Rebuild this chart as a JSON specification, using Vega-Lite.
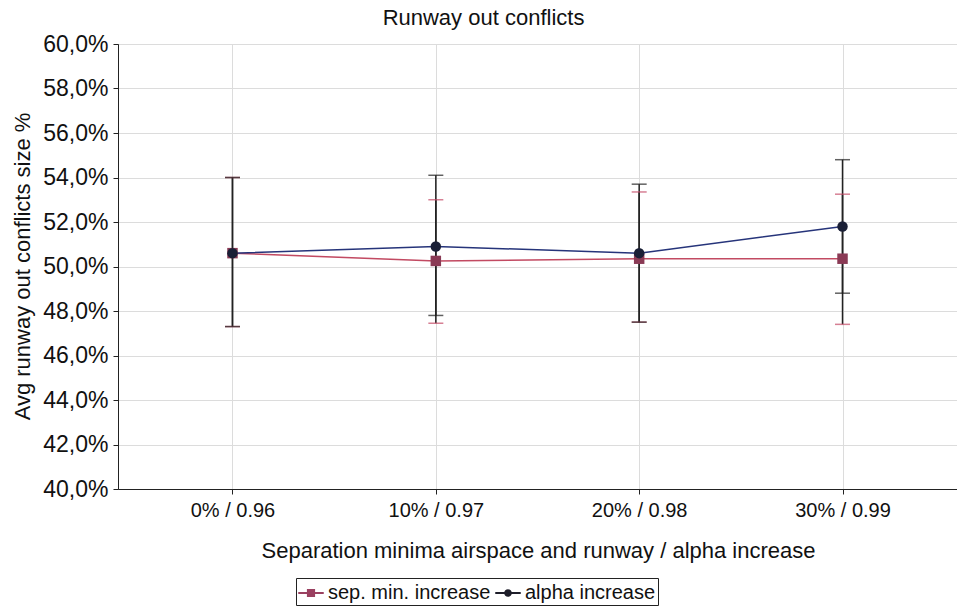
{
  "$schema": "https://vega.github.io/schema/vega-lite/v6.json",
  "autosize": {"type": "none"},
  "width": 839,
  "height": 445,
  "padding": {"left": 118, "top": 44, "right": 0, "bottom": 118},
  "background": "white",
  "config": {
    "font": "Liberation Sans",
    "view": {"stroke": "#555", "strokeWidth": 1},
    "axis": {"labelFont": "Liberation Sans", "titleFont": "Liberation Sans", "labelColor": "#111", "titleColor": "#111", "titleFontWeight": "normal", "domainColor": "#222", "tickColor": "#222", "gridColor": "#dcdcdc"}
  },
  "title": {"text": "Runway out conflicts", "fontSize": 22, "fontWeight": "normal", "color": "#111", "font": "Liberation Sans", "anchor": "middle", "dx": -54, "offset": 3},
  "data": {"values": [
    {"cat": "0% / 0.96", "series": "sep. min. increase", "mean": 50.6, "lo": 47.3, "hi": 54.0},
    {"cat": "10% / 0.97", "series": "sep. min. increase", "mean": 50.25, "lo": 47.45, "hi": 53.0},
    {"cat": "20% / 0.98", "series": "sep. min. increase", "mean": 50.35, "lo": 47.5, "hi": 53.35},
    {"cat": "30% / 0.99", "series": "sep. min. increase", "mean": 50.35, "lo": 47.4, "hi": 53.25},
    {"cat": "0% / 0.96", "series": "alpha increase", "mean": 50.6, "lo": 47.3, "hi": 54.0},
    {"cat": "10% / 0.97", "series": "alpha increase", "mean": 50.9, "lo": 47.8, "hi": 54.1},
    {"cat": "20% / 0.98", "series": "alpha increase", "mean": 50.6, "lo": 47.5, "hi": 53.7},
    {"cat": "30% / 0.99", "series": "alpha increase", "mean": 51.8, "lo": 48.8, "hi": 54.8}
  ]},
  "encoding": {
    "x": {"field": "cat", "type": "ordinal", "sort": null,
      "scale": {"type": "point", "padding": 0.563},
      "axis": {"title": "Separation minima airspace and runway / alpha increase", "labelAngle": 0, "labelFontSize": 20, "labelPadding": 6, "tickSize": 5, "grid": true, "titleFontSize": 22, "titleX": 420, "titleY": 61, "titleBaseline": "middle", "titleAlign": "center"}
    }
  },
  "layer": [
    {
      "mark": {"type": "rule", "color": "#222", "strokeWidth": 1.5},
      "encoding": {
        "y": {"field": "lo", "type": "quantitative", "scale": {"domain": [40, 60], "nice": false, "zero": false},
          "axis": {"title": "Avg runway out conflicts size %", "values": [40, 42, 44, 46, 48, 50, 52, 54, 56, 58, 60], "labelExpr": "replace(format(datum.value, '.1f'), '.', ',') + '%'", "labelFontSize": 23, "labelPadding": 5, "tickSize": 5, "grid": true, "titleFontSize": 22, "titleAngle": -90, "titleX": -96, "titleY": 222, "titleBaseline": "middle", "titleAlign": "center"}},
        "y2": {"field": "hi"}
      }
    },
    {
      "mark": {"type": "tick", "thickness": 1.5, "size": 15},
      "encoding": {
        "y": {"field": "lo", "type": "quantitative"},
        "color": {"field": "series", "type": "nominal", "scale": {"domain": ["sep. min. increase", "alpha increase"], "range": ["#c44a66", "#1e1e1e"]}, "legend": null}
      }
    },
    {
      "mark": {"type": "tick", "thickness": 1.5, "size": 15},
      "encoding": {
        "y": {"field": "hi", "type": "quantitative"},
        "color": {"field": "series", "type": "nominal", "scale": {"domain": ["sep. min. increase", "alpha increase"], "range": ["#c44a66", "#1e1e1e"]}, "legend": null}
      }
    },
    {
      "mark": {"type": "line", "strokeWidth": 1.5},
      "encoding": {
        "y": {"field": "mean", "type": "quantitative"},
        "detail": {"field": "series"},
        "color": {"field": "series", "type": "nominal", "scale": {"domain": ["sep. min. increase", "alpha increase"], "range": ["#c24a62", "#26347a"]}, "legend": null}
      }
    },
    {
      "mark": {"type": "point", "filled": true, "opacity": 1, "size": 110},
      "encoding": {
        "y": {"field": "mean", "type": "quantitative"},
        "shape": {"field": "series", "type": "nominal", "scale": {"domain": ["sep. min. increase", "alpha increase"], "range": ["square", "circle"]}, "legend": null},
        "color": {"field": "series", "type": "nominal", "scale": {"domain": ["sep. min. increase", "alpha increase"], "range": ["#8a3a55", "#1a1f36"]}, "legend": null}
      }
    },
    {
      "mark": {"type": "point", "filled": true, "opacity": 0},
      "encoding": {
        "y": {"field": "mean", "type": "quantitative"},
        "shape": {"field": "series", "type": "nominal", "scale": {"domain": ["sep. min. increase", "alpha increase"], "range": ["M-1,-0.08H1V0.08H-1Z M-0.32,-0.32H0.32V0.32H-0.32Z", "M-1,-0.08H1V0.08H-1Z M0.3,0A0.3,0.3 0 1,1 -0.3,0A0.3,0.3 0 1,1 0.3,0Z"]},
          "legend": {"title": null, "orient": "none", "legendX": 178, "legendY": 534, "direction": "horizontal", "columns": 2, "padding": 2, "strokeColor": "#222", "fillColor": "white", "labelFontSize": 20, "labelLimit": 400, "labelFont": "Liberation Sans", "labelColor": "#111", "symbolSize": 650, "symbolOpacity": 1, "symbolStrokeWidth": 0, "columnPadding": 4, "labelOffset": 4}},
        "color": {"field": "series", "type": "nominal", "scale": {"domain": ["sep. min. increase", "alpha increase"], "range": ["#9a4060", "#1e1e2a"]}}
      }
    }
  ],
  "resolve": {"scale": {"color": "independent", "shape": "independent"}}
}
